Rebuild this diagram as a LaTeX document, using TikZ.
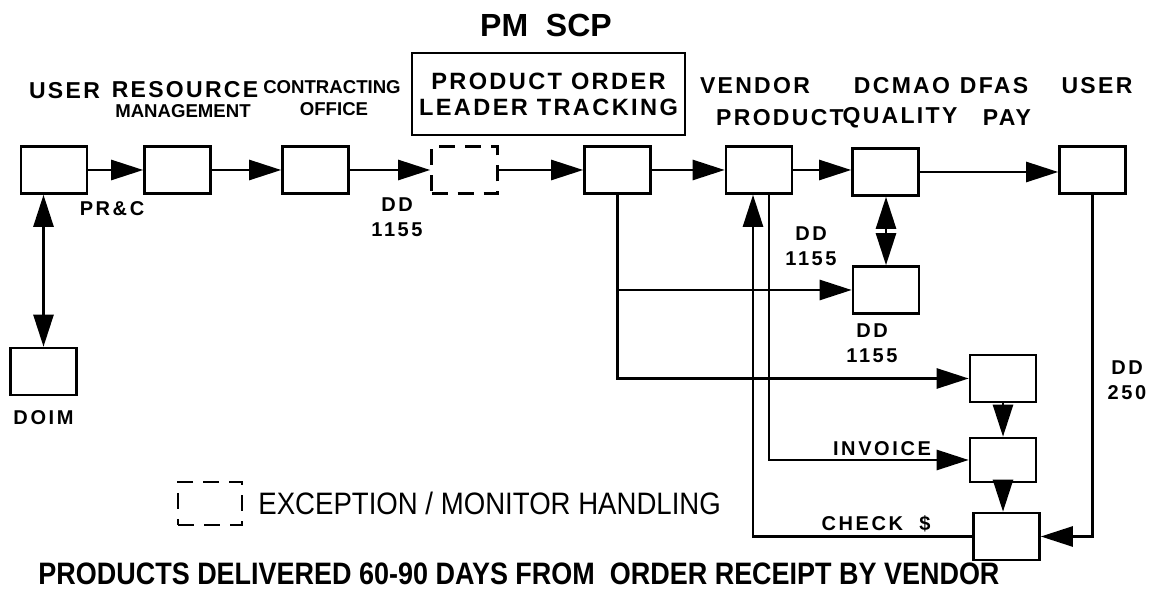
\documentclass[tikz,border=0pt]{standalone}
\usepackage{fontspec}
\setmainfont{Liberation Sans}
\newfontfamily\hdrfont[LetterSpace=10]{Liberation Sans}
\newfontfamily\lblfont[LetterSpace=13]{Liberation Sans}
\usetikzlibrary{arrows.meta, positioning}

\begin{document}
\begin{tikzpicture}[x=0.5pt, y=-0.5pt, >={Triangle[length=16pt, width=10pt]},
    box/.style={draw, line width=1.3pt, minimum width=33pt, minimum height=23.5pt, inner sep=0pt},
    xbox/.style={box, dash pattern=on 8pt off 5pt},
    flow/.style={->, line width=1.3pt},
    hdr/.style={font=\hdrfont\bfseries\fontsize{11.5}{13}\selectfont, inner sep=0pt},
    sub/.style={font=\bfseries\fontsize{9.3}{11}\selectfont, inner sep=0pt},
    lbl/.style={font=\lblfont\bfseries\fontsize{10}{12.5}\selectfont, inner sep=0pt, align=center}]
        \useasboundingbox (0,0) rectangle (1153,603);
        % boxes
        \node[box] (u1) at (54,170) {};
        \node[box] (rm) at (177.5,170) {};
        \node[box] (co) at (315.5,170) {};
        \node[xbox] (ex) at (464.5,170) {};
        \node[box] (po) at (617.5,170) {};
        \node[box] (vp) at (759,170) {};
        \node[box] (dq) at (885.5,172) {};
        \node[box] (u2) at (1092.5,170) {};
        \node[box] (q2) at (886,290) {};
        \node[box] (r1) at (1003,378.5) {};
        \node[box, minimum height=22pt] (r2) at (1003,460) {};
        \node[box] (r3) at (1006.5,536.5) {};
        \node[box] (doim) at (43.5,371.5) {};
        \coordinate (vin) at ([xshift=-3pt]vp.south);
        \coordinate (vout) at ([xshift=5pt]vp.south);
        % headings
        \node[font=\bfseries\fontsize{16}{18}\selectfont] (pm) at (546,25) {PM\ \ SCP};
        \node[draw, line width=1.3pt, minimum width=136.5pt, minimum height=41pt, hdr, font=\hdrfont\bfseries\fontsize{11.8}{13}\selectfont, align=center] (pmbox) at (548.5,94) {PRODUCT ORDER\\LEADER TRACKING};
        \node[hdr] (h1) at (64.5,91) {USER};
        \node[hdr] (h2) at (185,90) {RESOURCE};
        \node[sub] (h2b) at (183,111) {MANAGEMENT};
        \node[sub] (h3) at (332,87) {CONTRACTING};
        \node[sub] (h3b) at (334,109) {OFFICE};
        \node[hdr] (h4) at (755,86) {VENDOR};
        \node[hdr] (h4b) at (780,118) {PRODUCT};
        \node[hdr] (h5) at (902,86) {DCMAO};
        \node[hdr] (h5b) at (900,118) {QUALITY};
        \node[hdr] (h6) at (994,86) {DFAS};
        \node[hdr] (h6b) at (1007,118) {PAY};
        \node[hdr] (h7) at (1097,86) {USER};
        % labels
        \node[lbl, below=7pt of doim] (doimlbl) {DOIM};
        \node[lbl] (prc) at (112,209) {PR\&C};
        \node[lbl] (dd1) at (397,217) {DD\\1155};
        \node[lbl] (dd2) at (811,246) {DD\\1155};
        \node[lbl] (dd3) at (872,343) {DD\\1155};
        \node[lbl] (dd4) at (1127,380) {DD\\250};
        \node[lbl] (inv) at (882,449) {INVOICE};
        \node[lbl] (chk) at (876,524) {CHECK\ \ \$};
        % flow
        \draw[flow] (u1) -- (rm);
        \draw[flow] (rm) -- (co);
        \draw[flow] (co) -- (ex);
        \draw[flow] (ex) -- (po);
        \draw[flow] (po) -- (vp);
        \draw[flow] (vp.east) -- (vp.east -| dq.west);
        \draw[flow] (dq.east) -- (dq.east -| u2.west);
        \draw[flow, <->] (doim.north) -- (doim.north |- u1.south);
        \draw[flow, <->] (q2.north) -- (q2.north |- dq.south);
        \draw[flow] (po.south) |- (r1.west);
        \draw[flow] (po.south |- q2.west) -- (q2.west);
        \draw[flow] (r3.west) -| (vin);
        \draw[flow] (vout) |- (r2.west);
        \draw[flow] (r1) -- (r1 |- r2.north);
        \draw[flow] (r2.south) -- (r2.south |- r3.north);
        \draw[flow] (u2.south) |- (r3.east);
        % legend
        \node[xbox, minimum width=32pt, minimum height=21.5pt] (lgbox) at (210,503.5) {};
        \node[anchor=west, inner sep=0pt, font=\fontsize{15.5}{17}\selectfont] (lgtxt) at (258,503) {\scalebox{0.89}[1]{EXCEPTION / MONITOR HANDLING}};
        \node[font=\bfseries\fontsize{15.5}{17}\selectfont] (foot) at (519,574) {\scalebox{0.87}[1]{PRODUCTS DELIVERED 60-90 DAYS FROM\ \ ORDER RECEIPT BY VENDOR}};
\end{tikzpicture}
\end{document}
